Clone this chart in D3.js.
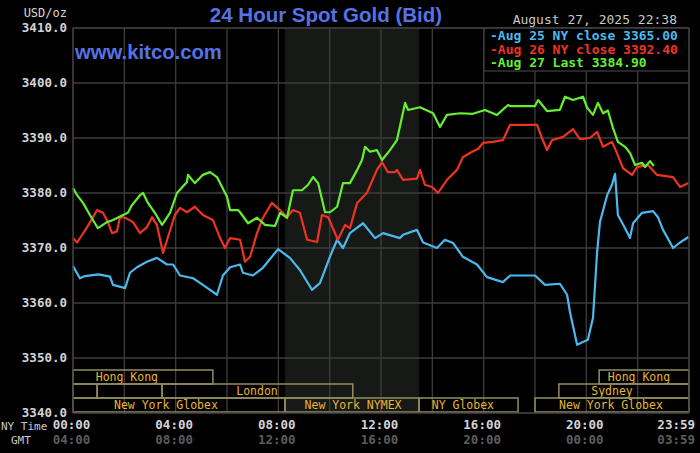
<!DOCTYPE html>
<html>
<head>
<meta charset="utf-8">
<script src="https://cdn.jsdelivr.net/npm/d3@7"></script>
<style>
  body { margin: 0; background: #000; }
  svg { display: block; }
  .mono { font-family: 'DejaVu Sans Mono', monospace; }
</style>
</head>
<body>
<script>
// price ticks on the left
const priceTicks = [3340, 3350, 3360, 3370, 3380, 3390, 3400, 3410]
// bottom axis: NY time and GMT
const hourTicks = [0, 4, 8, 12, 16, 20, 23.983]
const nyLabels = ['00:00', '04:00', '08:00', '12:00', '16:00', '20:00', '23:59']
const gmtLabels = ['04:00', '08:00', '12:00', '16:00', '20:00', '00:00', '03:59']

// series: [hour, price]
const aug25 = [[0,3366.7],[0.27,3364.5],[0.47,3364.9],[1.0,3365.2],[1.44,3364.8],[1.56,3363.3],[2.03,3362.7],[2.22,3365.5],[2.49,3366.5],[2.88,3367.5],[3.27,3368.2],[3.66,3367],[3.90,3367],[4.17,3365],[4.68,3364.5],[5.06,3363.3],[5.61,3361.5],[5.84,3365],[6.12,3366.5],[6.51,3367],[6.62,3365.5],[7.01,3365],[7.40,3366.4],[7.99,3369.8],[8.45,3368.2],[8.84,3366],[9.31,3362.4],[9.62,3363.6],[10.01,3368.4],[10.29,3371.5],[10.52,3370],[10.79,3372.7],[11.30,3374.5],[11.77,3371.8],[12.08,3372.7],[12.74,3371.8],[12.86,3372.4],[13.40,3373.3],[13.64,3371],[14.18,3370],[14.49,3371.5],[14.81,3370.9],[15.19,3368.4],[15.74,3367],[16.13,3364.7],[16.75,3363.8],[17.03,3365],[18.00,3365],[18.39,3363.3],[18.97,3363.5],[19.25,3361.5],[19.36,3358.4],[19.64,3352.4],[20.06,3353.3],[20.26,3357.3],[20.42,3369.3],[20.53,3374.7],[20.81,3379.6],[21.00,3381.5],[21.12,3383.5],[21.23,3376],[21.51,3373.6],[21.70,3371.8],[21.82,3374.5],[22.17,3376.4],[22.60,3376.7],[22.79,3375.6],[22.99,3373.3],[23.38,3370],[23.65,3371],[23.98,3372]]
const aug26 = [[0,3371.8],[0.16,3371],[0.55,3373.8],[0.94,3376.9],[1.17,3376.4],[1.36,3374.7],[1.52,3372.7],[1.71,3373],[1.83,3375.6],[2.03,3375.5],[2.34,3374.7],[2.61,3372.7],[2.88,3373.8],[3.08,3375.6],[3.27,3374.2],[3.51,3369.1],[3.70,3372],[3.97,3376],[4.17,3377.3],[4.44,3376.5],[4.75,3377.5],[5.06,3376],[5.45,3375.1],[5.73,3371.8],[5.92,3370],[6.12,3371.8],[6.51,3371.5],[6.70,3367.5],[6.90,3368.4],[7.17,3372.7],[7.40,3375.5],[7.75,3378.2],[8.07,3376.9],[8.34,3375.6],[8.57,3376.9],[8.84,3376.4],[9.12,3371.5],[9.51,3371.1],[9.70,3376],[9.94,3375.6],[10.32,3371.5],[10.60,3374.2],[10.79,3373.6],[11.07,3378.2],[11.45,3380],[11.84,3384.2],[12.04,3385.6],[12.27,3383.8],[12.55,3383.8],[12.62,3384.2],[12.86,3382.4],[13.40,3382.6],[13.52,3384.2],[13.71,3381.5],[13.99,3381.1],[14.22,3380],[14.57,3382.4],[14.96,3384.2],[15.19,3386.5],[15.55,3387.5],[15.78,3388],[15.97,3389.1],[16.36,3389.3],[16.75,3389.6],[17.03,3392.4],[18.08,3392.4],[18.27,3390],[18.47,3387.8],[18.66,3389.6],[19.09,3390.2],[19.48,3391.6],[19.75,3389.8],[20.14,3390],[20.42,3391.1],[20.65,3388.4],[21.00,3389.3],[21.19,3387.3],[21.43,3384.5],[21.78,3383.3],[21.97,3384.7],[22.40,3385.1],[22.75,3383.3],[23.38,3382.9],[23.65,3381.1],[23.98,3381.8]]
const aug27 = [[0,3380.9],[0.16,3379.6],[0.39,3378.2],[0.66,3376],[0.97,3373.6],[1.32,3374.7],[1.56,3375.1],[1.95,3376],[2.14,3376.4],[2.30,3377.8],[2.61,3379.6],[2.73,3380],[2.92,3378.2],[3.19,3376.4],[3.47,3374.2],[3.78,3376.4],[4.05,3380],[4.44,3382],[4.48,3383.3],[4.75,3381.8],[5.06,3383.3],[5.34,3383.8],[5.61,3382.9],[6.00,3379.3],[6.12,3376.9],[6.43,3376.9],[6.51,3376.5],[6.82,3374.5],[7.17,3375.5],[7.48,3374.2],[7.87,3374],[8.07,3376.4],[8.34,3375.5],[8.57,3380.5],[8.92,3380.5],[9.16,3381.5],[9.35,3382.9],[9.55,3381.8],[9.82,3376.5],[10.01,3376.5],[10.29,3377.5],[10.52,3381.8],[10.79,3381.8],[11.07,3384.2],[11.26,3386],[11.38,3388.4],[11.57,3387.5],[11.84,3387.8],[12.04,3386],[12.35,3387.8],[12.62,3389.6],[12.94,3396.4],[13.05,3395.1],[13.52,3395.6],[14.03,3394.5],[14.30,3392],[14.57,3394.2],[15.08,3394.5],[15.58,3394.4],[16.05,3395.1],[16.52,3394.2],[16.95,3396],[17.03,3395.8],[18.00,3395.8],[18.12,3396.9],[18.47,3394.9],[18.97,3395.1],[19.17,3397.5],[19.48,3396.9],[19.87,3397.5],[20.03,3395.5],[20.26,3394.2],[20.45,3396.4],[20.65,3394.5],[20.84,3395],[21.04,3391.8],[21.23,3389.3],[21.51,3388.4],[21.70,3387.3],[21.90,3385.1],[22.17,3385.5],[22.29,3384.7],[22.48,3385.8],[22.63,3384.9]]

const seriesNames = ['Aug 25 NY close 3365.00', 'Aug 26 NY close 3392.40', 'Aug 27 Last 3384.90']
const seriesColors = ['#4cb8ee', '#ee3322', '#66ee33']

// trading sessions: row, start hour, end hour, label, label centre hour
const sessRow = [0, 0, 1, 1, 1, 1, 2, 2, 2, 2]
const sessStart = [0, 20.5, 0, 0.94, 3.47, 18.93, 0, 8.26, 13.48, 18]
const sessEnd = [5.45, 24, 0.94, 3.47, 10.9, 24, 8.26, 13.48, 17.34, 24]
const sessLabel = ['Hong Kong', 'Hong Kong', '', '', 'London', 'Sydney', 'New York Globex', 'New York NYMEX', 'NY Globex', 'New York Globex']
const sessLabelAt = [2.1, 22.05, 0, 0, 7.17, 21.0, 3.62, 10.91, 15.19, 20.96]

const margin = {top: 28, right: 11, bottom: 40, left: 73},
  width = 700 - margin.left - margin.right,
  height = 453 - margin.top - margin.bottom

const svg = d3.select('body').append('svg')
    .attr('width', 700)
    .attr('height', 453)
    .style('background', '#000'),
  g = svg.append('g')
    .attr('transform', 'translate(' + margin.left + ',' + margin.top + ')')

const x = d3.scaleLinear().domain([0, 24]).range([0, width])
const y = d3.scaleLinear().domain([3340, 3410]).range([height, 0])

// NYMEX shading
g.append('rect')
  .attr('x', x(sessStart[7])).attr('width', x(sessEnd[7]) - x(sessStart[7]))
  .attr('y', 0).attr('height', height)
  .attr('fill', '#161916')

// grid
g.selectAll('.hgrid').data(priceTicks).enter().append('line')
  .attr('x1', 0).attr('x2', width)
  .attr('y1', d => y(d)).attr('y2', d => y(d))
  .attr('stroke', '#3d3d3d').attr('stroke-width', 1.3)
g.selectAll('.vgrid').data(d3.range(0, 25, 2)).enter().append('line')
  .attr('y1', 0).attr('y2', height)
  .attr('x1', d => x(d)).attr('x2', d => x(d))
  .attr('stroke', '#3d3d3d').attr('stroke-width', 1.3)

// session bars
const rowH = 14, rowTop = height - 3 * rowH - 1
const sess = g.selectAll('.sess').data(sessRow.map((r, i) => i)).enter().append('g')
sess.append('rect')
  .attr('x', i => x(sessStart[i])).attr('width', i => x(sessEnd[i]) - x(sessStart[i]))
  .attr('y', i => rowTop + sessRow[i] * rowH).attr('height', rowH)
  .attr('fill', 'none').attr('stroke', '#948d62').attr('stroke-width', 1.5)
sess.append('text')
  .attr('class', 'mono')
  .attr('x', i => x(sessLabelAt[i]))
  .attr('y', i => rowTop + sessRow[i] * rowH + 11)
  .attr('text-anchor', 'middle')
  .attr('font-size', 11.5)
  .attr('fill', '#e8b630')
  .text(i => sessLabel[i])

// price lines
const line = d3.line().x(d => x(d[0])).y(d => y(d[1]))
;[aug25, aug26, aug27].forEach((s, i) => {
  g.append('path')
    .attr('d', line(s))
    .attr('fill', 'none')
    .attr('stroke', seriesColors[i])
    .attr('stroke-width', 2.2)
    .attr('stroke-linejoin', 'round')
})

// legend box
const lx = 411, lw = width - lx
g.append('rect')
  .attr('x', lx).attr('y', 0).attr('width', lw).attr('height', 43)
  .attr('fill', '#000').attr('stroke', '#3d3d3d').attr('stroke-width', 1.3)
g.selectAll('.leg').data(seriesNames).enter().append('text')
  .attr('class', 'mono')
  .attr('x', lx + 6).attr('y', (d, i) => 12 + i * 13.7)
  .attr('font-size', 13).attr('font-weight', 'bold')
  .attr('fill', (d, i) => seriesColors[i])
  .text(d => '-' + d)

// frame
g.append('rect')
  .attr('width', width).attr('height', height)
  .attr('fill', 'none').attr('stroke', '#3d3d3d').attr('stroke-width', 1.3)

// y labels
svg.selectAll('.ylab').data(priceTicks).enter().append('text')
  .attr('class', 'mono')
  .attr('x', 67).attr('y', d => margin.top + y(d) + 4)
  .attr('text-anchor', 'end')
  .attr('font-size', 12.5).attr('font-weight', 'bold')
  .attr('fill', '#d4d4d4')
  .text(d => d.toFixed(1))
svg.append('text').attr('class', 'mono')
  .attr('x', 67).attr('y', 17).attr('text-anchor', 'end')
  .attr('font-size', 12).attr('fill', '#d4d4d4').text('USD/oz')

// x labels (last one right-aligned so it stays on the page)
const last = hourTicks.length - 1
const tickX = (d, i) => i === last ? 695 : margin.left + x(d) - 1.5
const tickAnchor = (d, i) => i === last ? 'end' : 'middle'
svg.selectAll('.xny').data(hourTicks).enter().append('text')
  .attr('class', 'mono')
  .attr('x', tickX).attr('y', 429)
  .attr('text-anchor', tickAnchor)
  .attr('font-size', 12.5).attr('font-weight', 'bold')
  .attr('fill', '#d4d4d4')
  .text((d, i) => nyLabels[i])
svg.selectAll('.xgmt').data(hourTicks).enter().append('text')
  .attr('class', 'mono')
  .attr('x', tickX).attr('y', 444)
  .attr('text-anchor', tickAnchor)
  .attr('font-size', 12.5).attr('font-weight', 'bold')
  .attr('fill', '#5c5c5c')
  .text((d, i) => gmtLabels[i])
svg.append('text').attr('class', 'mono')
  .attr('x', 1).attr('y', 430).attr('font-size', 11).attr('fill', '#c8c8c8').text('NY Time')
svg.append('text').attr('class', 'mono')
  .attr('x', 11).attr('y', 444).attr('font-size', 11).attr('fill', '#c8c8c8').text('GMT')

// titles
svg.append('text')
  .attr('x', 326).attr('y', 22)
  .attr('text-anchor', 'middle')
  .style('font-family', "'Liberation Sans', Arial, sans-serif")
  .attr('font-weight', 'bold')
  .attr('font-size', 20.5)
  .attr('fill', '#5573e6')
  .text('24 Hour Spot Gold (Bid)')
svg.append('text')
  .attr('x', 75).attr('y', 59)
  .style('font-family', "'Liberation Sans', Arial, sans-serif")
  .attr('font-weight', 'bold')
  .attr('font-size', 20.3)
  .attr('fill', '#5573e6')
  .text('www.kitco.com')
svg.append('text').attr('class', 'mono')
  .attr('x', 677).attr('y', 24).attr('text-anchor', 'end')
  .attr('font-size', 13).attr('fill', '#c8c8c8')
  .text('August 27, 2025 22:38')
</script>
</body>
</html>
